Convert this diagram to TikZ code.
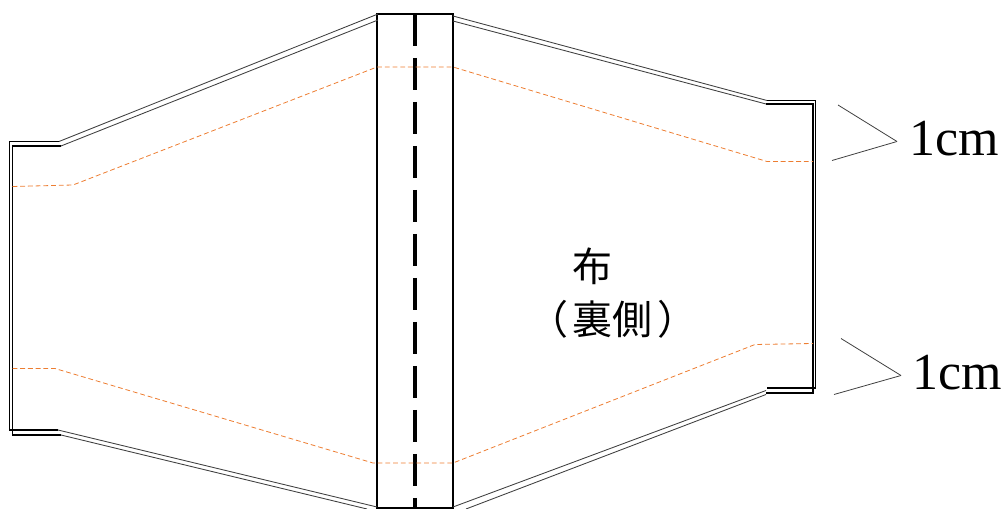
\documentclass[tikz,border=0pt]{standalone}
\usepackage{fontspec}
\setmainfont{Liberation Serif}
\newfontfamily\cjkFont{Noto Sans CJK JP}
\definecolor{seamOrange}{RGB}{237,125,49}

\begin{document}
\begin{tikzpicture}
[x=0.75pt,y=-0.75pt,
  outlineLine/.style={-,line width=0.8pt,black},
  hemLine/.style={-,line width=0.65pt,black!75},
  foldLine/.style={-,line width=0.8pt,black},
  seamLine/.style={-,line width=0.6pt,seamOrange,dash pattern=on 3.6pt off 2.2pt},
  centerLine/.style={-,line width=3pt,black,dash pattern=on 24pt off 9pt},
  leaderLine/.style={-,line width=0.6pt,black!75},
  sizeLabel/.style={inner sep=0pt,font=\fontsize{39}{39}\selectfont,anchor=base west},
  fabricLabel/.style={inner sep=0pt,font=\cjkFont\fontsize{30}{30}\selectfont}]
\useasboundingbox (0,0) rectangle (1008,509);
\draw[foldLine] (377,14) rectangle (453,508);
\draw[centerLine] (415,14) -- (415,508);
\draw[hemLine] (378,14) -- (59,141.5);
\draw[hemLine] (378,20) -- (61,146);
\draw[outlineLine] (59,141.5) -- (9.5,141.5) -- (9.5,430) -- (58,430);
\draw[outlineLine] (61,146) -- (12.5,146) -- (12.5,435) -- (61,435);
\draw[hemLine] (58,430) -- (377,507);
\draw[hemLine] (61,435) -- (367,509);
\draw[hemLine] (453,16) -- (767,100.5);
\draw[hemLine] (453,21) -- (766,104);
\draw[outlineLine] (767,100.5) -- (815.5,100.5) -- (815.5,388) -- (767,388);
\draw[outlineLine] (766,104) -- (813,104) -- (813,393) -- (766,393);
\draw[hemLine] (453,507) -- (766,390.5);
\draw[hemLine] (466,509) -- (766,394.5);
\draw[seamLine] (12.5,186.5) -- (73,185) -- (377,67) -- (453,67) -- (767,161.5) -- (813,161.5);
\draw[seamLine] (12.5,368.5) -- (55,368.5) -- (373,463) -- (453,463) -- (755,344.5) -- (813,343.5);
\node[fabricLabel] (fabric) at (592,266) {布};
\node[fabricLabel] (backSide) at (613,319) {（\kern3.5pt 裏側\kern3.5pt ）};
\node[sizeLabel] (topSize) at (909,155.5) {1cm};
\node[sizeLabel] (bottomSize) at (912,390) {1cm};
\coordinate (topTip) at (897,141.5);
\coordinate (topUpper) at (838,105);
\coordinate (topLower) at (832,160.5);
\coordinate (bottomTip) at (901,375.5);
\coordinate (bottomUpper) at (841,338.5);
\coordinate (bottomLower) at (834,394.5);
\path
\foreach \startNode/\endNode in {
  topUpper/topTip, topLower/topTip, bottomUpper/bottomTip, bottomLower/bottomTip}
{
  (\startNode) edge[leaderLine] (\endNode)
};
\end{tikzpicture}
\end{document}
